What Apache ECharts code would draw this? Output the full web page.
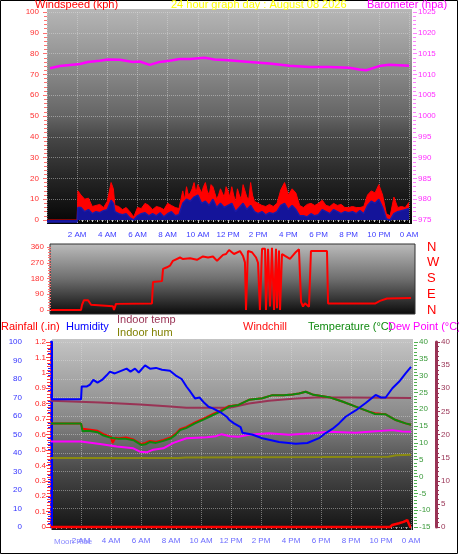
<!DOCTYPE html>
<html><head><meta charset="utf-8">
<script src="https://cdn.jsdelivr.net/npm/echarts@6/dist/echarts.min.js"></script>
<style>html,body{margin:0;padding:0;background:#fff}#c{width:459px;height:555px}</style>
</head><body><div id="c"></div><script>
// ---- data (hours since midnight, value) ----
const gust = [[0,0],[2.0,0],[2.05,14],[2.25,12],[2.5,10],[2.75,10.5],[3.0,6.5],[3.25,7],[3.5,7.5],[3.75,6],[4.0,9],[4.25,18],[4.4,15],[4.5,7],[4.75,6.5],[5.0,5],[5.25,6],[5.5,4],[5.75,1.5],[6.0,6],[6.25,5.5],[6.5,8],[6.75,7],[7.0,5],[7.25,6.5],[7.5,6],[7.75,5],[8.0,8],[8.25,7],[8.5,6],[8.75,5.5],[9.0,14],[9.125,10],[9.25,16],[9.375,12],[9.5,13],[9.625,15],[9.75,18],[9.875,13],[10.0,17],[10.125,15],[10.25,13],[10.375,16],[10.5,18],[10.625,14],[10.75,12],[10.875,17],[11.0,16],[11.125,13],[11.25,10],[11.375,12],[11.5,15],[11.625,13],[11.75,11],[11.875,16],[12.0,14],[12.125,11],[12.25,16],[12.375,12],[12.5,8.5],[12.625,15],[12.75,12],[12.875,10],[13.0,17],[13.125,14],[13.25,11],[13.375,10],[13.5,18],[13.625,12],[13.75,9],[14.0,8],[14.25,7],[14.5,6.5],[14.75,7.5],[15.0,6.5],[15.25,8],[15.5,14.5],[15.75,18],[16.0,12],[16.25,15],[16.5,13],[16.75,7],[17.0,6],[17.25,7.5],[17.5,8],[17.75,7],[18.0,8],[18.25,9.5],[18.5,7],[18.75,6.5],[19.0,8],[19.25,7],[19.5,7.5],[19.75,6],[20.0,6],[20.25,6.5],[20.5,6],[20.75,6],[21.0,6.5],[21.25,12],[21.5,14],[21.75,13],[22.0,17],[22.25,12],[22.5,3],[22.75,2],[23.0,11],[23.25,6],[23.5,6.5],[23.75,6],[24.0,8.5]];
const avgWind = [[0,-1],[2.0,-1],[2.05,6],[2.25,6],[2.5,4],[2.75,5],[3.0,3],[3.25,4],[3.5,3.5],[3.75,4.5],[4.0,5],[4.25,9.5],[4.4,8],[4.5,4],[4.75,3],[5.0,2.5],[5.25,3],[5.5,1],[5.75,0],[6.0,2],[6.25,3],[6.5,3.5],[6.75,2],[7.0,3],[7.25,2],[7.5,3.5],[7.75,1.5],[8.0,3],[8.25,4],[8.5,2],[8.75,2.5],[9.0,8],[9.25,10],[9.5,9],[9.75,11],[10.0,12],[10.25,8],[10.5,9],[10.75,7],[11.0,10],[11.25,6],[11.5,8],[11.75,6],[12.0,7],[12.25,8],[12.5,4],[12.75,6],[13.0,8],[13.25,5],[13.5,7],[13.75,4],[14.0,3],[14.25,4],[14.5,2.5],[14.75,3.5],[15.0,3],[15.25,4],[15.5,7],[15.75,8],[16.0,5],[16.25,7],[16.5,5],[16.75,2],[17.0,2],[17.25,1.5],[17.5,3],[17.75,2],[18.0,2.5],[18.25,5],[18.5,4],[18.75,3],[19.0,5],[19.25,4],[19.5,3],[19.75,4],[20.0,3.5],[20.25,4],[20.5,3],[20.75,4.5],[21.0,3],[21.25,7],[21.5,9],[21.75,8],[22.0,10],[22.25,6],[22.5,0.5],[22.75,0],[23.0,3],[23.25,4],[23.5,4.5],[23.75,5],[24.0,5.5]];
const barometer = [[0.2,1011.5],[0.86,1012],[2.18,1012.5],[2.71,1013],[3.5,1013.3],[4.03,1013.6],[4.83,1013.5],[5.69,1013],[6.15,1013.1],[6.81,1012.3],[7.47,1013],[8.13,1013.3],[8.8,1013.7],[9.46,1013.7],[10.45,1014],[11.1,1013.6],[12.04,1013.4],[13.43,1013],[14.76,1012.6],[16.07,1012.1],[17.39,1011.8],[18.72,1011.8],[20.04,1011.6],[20.7,1011.2],[21.16,1011.0],[22.02,1012],[22.68,1012.3],[24,1012.1]];
const windDir = [[0,0],[2.0,0],[2.07,30],[2.2,56],[2.47,56],[2.67,30],[2.8,22],[4.13,22],[4.2,0],[4.33,35],[6.73,37],[6.8,160],[6.93,165],[7.4,165],[7.47,235],[7.73,244],[7.93,253],[8.13,281],[8.6,300],[8.8,291],[9.27,296],[9.73,287],[10.13,306],[10.47,300],[10.8,306],[11.07,281],[11.47,315],[11.67,320],[11.87,343],[12.2,320],[12.6,337],[12.8,309],[12.93,272],[13.0,0],[13.13,337],[13.4,330],[13.67,300],[13.8,270],[13.93,0],[14.07,350],[14.27,350],[14.33,0],[14.47,350],[14.6,20],[14.73,355],[14.87,0],[15.0,350],[15.07,10],[15.2,340],[15.27,0],[15.4,320],[15.6,309],[15.93,292],[16.33,332],[16.53,347],[16.67,47],[16.8,20],[16.93,39],[17.2,19],[17.27,10],[17.33,337],[18.4,337],[18.47,37],[21.6,37],[21.93,52],[22.4,66],[24,69]];
const humidity = [[0,69],[2.0,69],[2.05,76],[2.4,76],[2.6,77],[2.82,79.5],[3.1,78],[3.4,79.5],[3.71,82],[3.93,84],[4.25,83],[4.55,84],[5.04,85.6],[5.3,84],[5.6,85.6],[5.85,83.5],[6.27,87.4],[6.6,85.6],[7.0,86],[7.4,85],[7.93,84.5],[8.3,82],[8.71,80],[9.04,75.8],[9.3,73],[9.6,69.5],[9.9,70],[10.16,67.6],[10.5,65],[10.82,64],[11.3,62],[11.71,59.6],[11.87,58],[12.2,56],[12.64,54],[12.76,51],[13.4,50],[14.09,48],[15.2,46],[16.31,45],[17.09,45.4],[17.87,48],[18.31,50.8],[18.76,53],[19.2,56],[19.64,59.6],[20.31,63],[20.98,67],[21.64,71.4],[22.0,70],[22.31,70],[22.76,75],[23.2,78.5],[23.64,83],[24,86.5]];
const temperature = [[0,15.8],[2.0,15.8],[2.1,13.5],[2.5,13.6],[3.1,13.2],[3.5,12.2],[4.0,11.5],[4.5,11.2],[5.0,11.2],[5.5,10.8],[6.0,9.4],[6.3,9.6],[6.6,10.3],[7.0,10],[7.5,10.6],[8.0,11.4],[8.3,12.4],[8.6,13.8],[9.0,14.4],[9.6,15.8],[10.2,17],[10.8,18.3],[11.3,19.3],[11.87,20.8],[12.5,21.3],[13.2,22.8],[14.09,23.3],[14.76,24.2],[15.5,24.2],[16.1,24.4],[16.53,24.7],[16.98,25.2],[17.5,24.3],[18.53,23.6],[19.42,22.3],[20.31,20.8],[21.2,19.3],[21.6,18.6],[22.31,18.5],[22.98,16.8],[23.64,15.8],[24,15.4]];
const windchill = [[0,15.8],[2.0,15.8],[2.1,14.2],[2.5,14],[3.1,13.6],[3.5,12.6],[4.0,11.8],[4.1,10],[4.3,11.5],[4.5,11.4],[5.0,11.6],[5.5,11],[6.0,9.7],[6.3,10],[6.6,10.6],[7.0,10.3],[7.5,10.9],[8.0,11.7],[8.3,12.7],[8.6,14.1],[9.0,14.7],[9.6,16.1],[10.2,17.3],[10.8,18.6],[11.3,19.6],[11.87,21],[12.5,21.3],[13.2,22.8],[14.09,23.3],[14.76,24.2],[15.5,24.2],[16.1,24.4],[16.53,24.7],[16.98,25.2],[17.5,24.3],[18.53,23.6],[19.42,22.3],[20.31,20.8],[21.2,19.3],[21.6,18.8],[22.31,18.5],[22.98,16.8],[23.64,15.8],[24,15.4]];
const dewPoint = [[0,10.4],[2.0,10.4],[2.1,9.9],[3.27,9.7],[4.38,8.9],[5.49,8.4],[5.93,7.4],[6.38,7.2],[6.82,8],[7.49,8.4],[8.16,10],[9.04,11.4],[10.38,11.7],[11.0,12],[11.38,12.6],[11.93,12],[12.5,11.85],[13.2,12.4],[14.53,12.85],[15.87,12.4],[17.42,12.85],[18.53,13.3],[20.31,13],[21.2,13.3],[22.76,13.8],[23.4,13.4],[24,13.3]];
const indoorTemp = [[0,27.3],[3.27,26.9],[5.93,26.5],[7.71,26.1],[9.04,25.8],[11.93,25.8],[13.2,26.7],[14.53,27.3],[16.31,27.8],[17.64,28],[20,28],[24,27.9]];
const indoorHum = [[0,37.3],[8.5,37.3],[9,37.6],[18,37.8],[22.5,38],[23,38.8],[24,39]];
const rainfall = [[0,0],[22.6,0],[22.75,0.013],[23.2,0.024],[23.5,0.033],[23.75,0.045],[23.88,0.045],[23.95,0],[24,0]];
const dirLabels = {0:'N',90:'E',180:'S',270:'W',360:'N'};
const titleText = '24 hour graph day : August 08 2026';

const FF = '"Liberation Sans", Arial, sans-serif';
function hourLabel(v){
  if (v === 0 || Math.abs(v - Math.round(v)) > 0.01) return '';
  if (v === 24) return '0 AM';
  if (v < 12) return v + ' AM';
  if (v === 12) return '12 PM';
  return (v - 12) + ' PM';
}
function plain(v){ return String(+v.toFixed(1)); }
function grad(stops){ return {type:'linear',x:0,y:0,x2:0,y2:1,colorStops:stops.map(s=>({offset:s[0],color:s[1]}))}; }
function txt(x,y,text,color,size){ return {type:'text',x:x,y:y,z:10,style:{text:text,fill:color,font:(size||11)+'px '+FF,verticalAlign:'middle'}}; }
const dotted = {type:'dotted', color:'rgba(225,225,225,0.45)', width:1};
function yAx(o){
  return Object.assign({type:'value', axisLine:{show:false}, splitLine:{show:false},
    axisTick:{show:true,length:4,lineStyle:{color:o.tc}},
    minorTick:{show:true,splitNumber:o.minor||5,length:3,lineStyle:{color:o.tc}},
    axisLabel:{color:o.lc,fontSize:8,fontFamily:FF,margin:o.margin||5,formatter:plain}}, o.extra);
}

const chart = echarts.init(document.getElementById('c'), null, {renderer:'canvas'});
chart.setOption({
  animation:false,
  backgroundColor:'#ffffff',
  grid:[
    {left:47,right:50,top:12,height:208},
    {left:51,right:48,top:247,height:63},
    {left:51,right:48,top:342,height:185}
  ],
  xAxis:[
    {type:'value',gridIndex:0,position:'bottom',min:0,max:24,interval:2,offset:4,axisLine:{show:false},
     axisTick:{show:true,length:3,lineStyle:{color:'#d0d0d0'}},
     minorTick:{show:true,splitNumber:6,length:2,lineStyle:{color:'#d0d0d0'}},
     axisLabel:{formatter:hourLabel,color:'#3c3cff',fontSize:8,fontFamily:FF,margin:7},
     splitLine:{show:true,lineStyle:dotted}},
    {type:'value',gridIndex:1,position:'bottom',min:0,max:24,interval:2,show:false},
    {type:'value',gridIndex:2,position:'bottom',min:0,max:24,interval:2,offset:3,axisLine:{show:false},
     axisTick:{show:true,length:3,lineStyle:{color:'#909090'}},
     minorTick:{show:true,splitNumber:6,length:2,lineStyle:{color:'#a0a0a0'}},
     axisLabel:{formatter:hourLabel,color:'#6a6aff',fontSize:8,fontFamily:FF,margin:7},
     splitLine:{show:true,lineStyle:dotted}}
  ],
  yAxis:[
    yAx({tc:'#ff7070',lc:'#ff3030',extra:{gridIndex:0,position:'left',min:0,max:100,interval:10,offset:3,splitLine:{show:true,lineStyle:dotted}}}),
    yAx({tc:'#ff80ff',lc:'#ff30ff',extra:{gridIndex:0,position:'right',min:975,max:1025,interval:5,offset:4}}),
    yAx({tc:'#ff7070',lc:'#ff3030',minor:6,extra:{gridIndex:1,position:'left',min:0,max:360,interval:90,offset:2}}),
    {type:'value',gridIndex:1,position:'right',min:0,max:360,interval:90,offset:3,axisLine:{show:false},axisTick:{show:false},splitLine:{show:false},
     axisLabel:{color:'#ff0000',fontSize:13,fontFamily:FF,margin:13,formatter:v=>dirLabels[v]||''}},
    yAx({tc:'#2020ff',lc:'#3333ff',margin:7,extra:{gridIndex:2,position:'left',min:0,max:100,interval:10,offset:22,
      axisLine:{show:true,lineStyle:{color:'#0000ff',width:3}},splitLine:{show:true,lineStyle:dotted}}}),
    yAx({tc:'#ff4040',lc:'#ff2020',margin:4,extra:{gridIndex:2,position:'left',min:0,max:1.2,interval:0.1,offset:1,
      axisLine:{show:true,lineStyle:{color:'#ff4040',width:1,type:'dashed'}}}}),
    yAx({tc:'#50b050',lc:'#3a9a3a',extra:{gridIndex:2,position:'right',min:-15,max:40,interval:5,offset:3}}),
    yAx({tc:'#993355',lc:'#993355',extra:{gridIndex:2,position:'right',min:0,max:40,interval:5,offset:25,
      axisLine:{show:true,lineStyle:{color:'#993355',width:3}}}})
  ],
  series:[
    {type:'line',xAxisIndex:0,yAxisIndex:0,data:gust,symbol:'none',clip:false,lineStyle:{color:'#ff0000',width:1},areaStyle:{color:'#ff0000',opacity:1},z:2},
    {type:'line',xAxisIndex:0,yAxisIndex:0,data:avgWind,symbol:'none',clip:false,lineStyle:{color:'#1a1aa8',width:1.5},areaStyle:{color:'#14149a',opacity:1},z:3},
    {type:'line',xAxisIndex:0,yAxisIndex:1,data:barometer,symbol:'none',lineStyle:{color:'#ff00ff',width:2.5},z:4},
    {type:'line',xAxisIndex:1,yAxisIndex:2,data:windDir,symbol:'none',clip:false,lineStyle:{color:'#ff0000',width:2},z:4},
    {type:'line',xAxisIndex:2,yAxisIndex:4,data:indoorHum,symbol:'none',lineStyle:{color:'#8a8a10',width:2},z:3},
    {type:'line',xAxisIndex:2,yAxisIndex:7,data:indoorTemp,symbol:'none',lineStyle:{color:'#993355',width:2},z:3},
    {type:'line',xAxisIndex:2,yAxisIndex:6,data:dewPoint,symbol:'none',lineStyle:{color:'#ff00ff',width:2},z:4},
    {type:'line',xAxisIndex:2,yAxisIndex:6,data:windchill,symbol:'none',lineStyle:{color:'#ff0000',width:2},z:4},
    {type:'line',xAxisIndex:2,yAxisIndex:6,data:temperature,symbol:'none',lineStyle:{color:'#0c8a0c',width:2},z:5},
    {type:'line',xAxisIndex:2,yAxisIndex:4,data:humidity,symbol:'none',lineStyle:{color:'#0000ff',width:2},z:6},
    {type:'line',xAxisIndex:2,yAxisIndex:5,data:rainfall,symbol:'none',clip:false,lineStyle:{color:'#ff0000',width:2.5},z:6}
  ],
  graphic:[
    {type:'rect',z:-10,shape:{x:47,y:9,width:365,height:215},style:{fill:grad([[0,'#b6b6b6'],[0.21,'#969696'],[0.5,'#646464'],[0.6,'#464646'],[0.8,'#232323'],[1,'#050505']])}},
    {type:'rect',z:-10,shape:{x:50,y:244,width:365,height:70},style:{fill:grad([[0,'#bcbcbc'],[0.5,'#6e6e6e'],[1,'#0a0a0a']]),stroke:'#303030',lineWidth:1}},
    {type:'rect',z:-10,shape:{x:52,y:339,width:361,height:191},style:{fill:grad([[0,'#c4c4c4'],[0.4,'#8a8a8a'],[0.68,'#4a4a4a'],[1,'#141414']])}},
    {type:'rect',z:-5,shape:{x:0.5,y:0.5,width:457,height:553},style:{fill:'none',stroke:'#000000',lineWidth:1}},
    txt(35,5,'Windspeed (kph)','#ff0000',11),
    txt(171,5,titleText,'#ffff00',11),
    txt(367,5,'Barometer (hpa)','#ff00ff',11),
    txt(1,327,'Rainfall (.in)','#ff0000',11),
    txt(66,327,'Humidity','#0000ff',11),
    txt(117,320,'Indoor temp','#993355',11),
    txt(117,333,'Indoor hum','#808000',11),
    txt(243,327,'Windchill','#ff1010',11),
    txt(308,327,'Temperature (°C)','#118a11',11),
    txt(388,327,'Dew Point (°C)','#ff00ff',11),
    txt(54,542,'Moon Rise','#8a8aff',8)
  ]
});
</script></body></html>
